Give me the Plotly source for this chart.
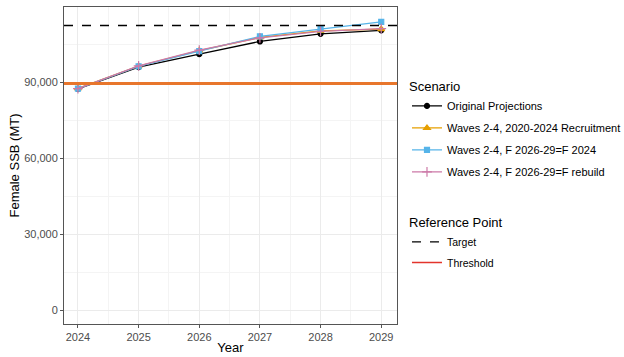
import plotly.graph_objects as go

years = [2024, 2025, 2026, 2027, 2028, 2029]
original = [87300, 95900, 101000, 106000, 109000, 110400]
recruit = [87500, 96300, 102400, 107600, 110200, 110900]
f2024 = [87400, 96200, 102200, 108000, 110900, 113700]
frebuild = [87400, 96400, 102600, 107400, 110000, 111100]
target = 112300
threshold = 89400

y_ticks = [0, 30000, 60000, 90000]
y_tick_labels = ["0", "30,000", "60,000", "90,000"]

fig = go.Figure()

series = [
    ("Original Projections", original, "black", "circle", 5),
    ("Waves 2-4, 2020-2024 Recruitment", recruit, "#E69F00", "triangle-up", 6),
    ("Waves 2-4, F 2026-29=F 2024", f2024, "#56B4E9", "square", 5),
    ("Waves 2-4, F 2026-29=F rebuild", frebuild, "#CC79A7", "cross-thin-open", 7),
]

fig.add_shape(type="line", xref="paper", x0=0, x1=1, y0=threshold, y1=threshold,
              line=dict(color="#E8762C", width=3), layer="above")
fig.add_shape(type="line", xref="paper", x0=0, x1=1, y0=target, y1=target,
              line=dict(color="black", width=1.3, dash="dash"), layer="above")

for i, (name, vals, col, sym, sz) in enumerate(series):
    fig.add_trace(go.Scatter(
        x=years, y=vals, name=name, mode="lines+markers",
        line=dict(color=col, width=1.3),
        marker=dict(color=col, symbol=sym, size=sz, line=dict(color=col, width=1.2)),
        legend="legend", legendgroup=f"s{i}",
    ))

fig.add_trace(go.Scatter(x=[None], y=[None], mode="lines", name="Target",
                         line=dict(color="black", width=1.3, dash="dash"),
                         legend="legend2", legendgroup="r1"))
fig.add_trace(go.Scatter(x=[None], y=[None], mode="lines", name="Threshold",
                         line=dict(color="#E3342C", width=1.5),
                         legend="legend2", legendgroup="r2"))

axis_common = dict(
    showline=True, linecolor="#555555", linewidth=1, mirror=True,
    ticks="outside", ticklen=3, tickcolor="#555555",
    gridcolor="#EBEBEB", gridwidth=1,
    tickfont=dict(family="Liberation Sans, Arial", size=11, color="#4D4D4D"),
    zeroline=False, automargin=False,
)

fig.update_layout(
    width=624, height=357,
    margin=dict(l=64, r=227, t=7, b=33, autoexpand=False),
    plot_bgcolor="white", paper_bgcolor="white",
    font=dict(family="Liberation Sans, Arial", color="black"),
    xaxis=dict(range=[2023.77, 2029.26], tickmode="array", tickvals=years,
               ticktext=[str(y) for y in years],
               title=dict(text="Year", font=dict(size=13), standoff=0),
               minor=dict(showgrid=True, gridcolor="#F4F4F4", tickvals=[2024.5, 2025.5, 2026.5, 2027.5, 2028.5]),
               **axis_common),
    yaxis=dict(range=[-5500, 119600], tickmode="array", tickvals=y_ticks,
               ticktext=y_tick_labels,
               title=dict(text="Female SSB (MT)", font=dict(size=13), standoff=1),
               minor=dict(showgrid=True, gridcolor="#F4F4F4", tickvals=[15000, 45000, 75000, 105000]),
               **axis_common),
    legend=dict(x=1.03, y=0.787, xanchor="left", yanchor="top",
                title=dict(text="Scenario", font=dict(size=13)),
                font=dict(size=11), tracegroupgap=3, itemwidth=30,
                bgcolor="rgba(0,0,0,0)"),
    legend2=dict(x=1.03, y=0.358, xanchor="left", yanchor="top",
                 title=dict(text="Reference Point", font=dict(size=13)),
                 font=dict(size=10.5), tracegroupgap=1.5, itemwidth=30,
                 bgcolor="rgba(0,0,0,0)"),
)

fig.write_html("out.html", post_script="document.body.style.margin='0';",
               config={"displayModeBar": False})
